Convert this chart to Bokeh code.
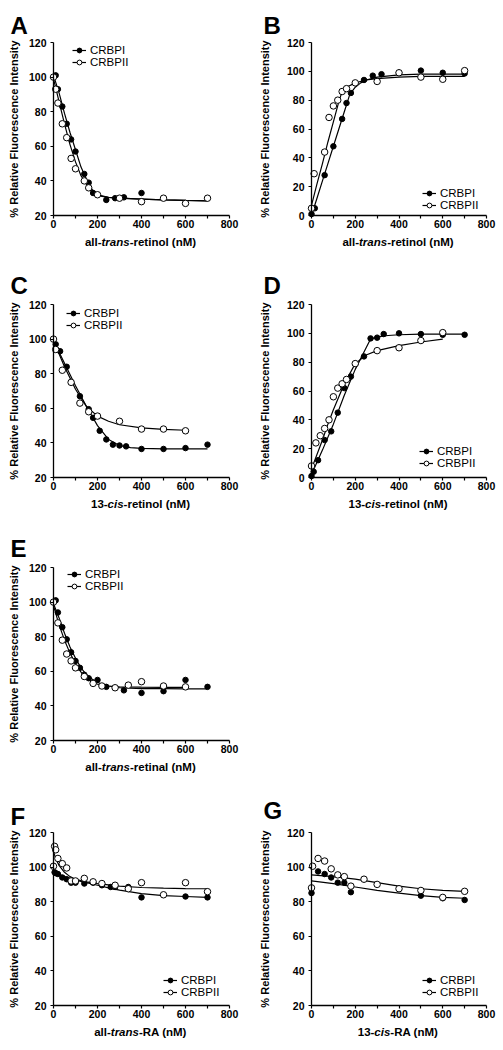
import math
from bokeh.plotting import figure
from bokeh.layouts import gridplot
from bokeh.models import FixedTicker, Label, Legend, LegendItem
from bokeh.embed import file_html
from bokeh.resources import INLINE

FONT = "Liberation Sans"

# ---------------- data ----------------
X_TICKS = [0, 200, 400, 600, 800]
X_MINOR = [100, 300, 500, 700]
Y_TICKS_20 = [20, 40, 60, 80, 100, 120]
Y_TICKS_0 = [0, 20, 40, 60, 80, 100, 120]
SERIES = ["CRBPI", "CRBPII"]

# A: all-trans-retinol, quench
A_I_x = [10, 20, 40, 60, 80, 100, 140, 160, 180, 240, 280, 320, 400]
A_I_y = [101, 93, 83, 73, 64, 57, 44, 39, 33, 29, 30, 30.5, 33]
A_II_x = [0, 10, 20, 40, 60, 80, 100, 140, 160, 200, 300, 400, 500, 600, 700]
A_II_y = [100, 93, 85, 73, 65, 53, 47, 40, 36, 32, 30, 28, 30, 27, 30]
A_fit_x = [0, 25, 50, 75, 100, 125, 150, 175, 200, 250, 300, 400, 500, 600, 700]
A_I_fit = [101, 91, 79, 68, 58, 48, 41, 35, 32, 30.5, 30, 29.5, 29, 28.7, 28.5]
A_II_fit = [99, 86, 73, 61, 51, 43, 38, 34, 31.5, 30.5, 30, 29.5, 29, 28.7, 28.5]

# B: all-trans-retinol, enhancement
B_I_x = [0, 15, 60, 100, 140, 160, 180, 240, 280, 320, 400, 500, 600, 700]
B_I_y = [1, 5, 28, 48, 67, 78, 85, 94, 97, 98, 99, 100.5, 99, 98.5]
B_II_x = [0, 12, 60, 80, 100, 120, 140, 160, 200, 300, 400, 500, 600, 700]
B_II_y = [5, 29, 44, 68, 76, 80, 86, 88, 92, 93, 99, 96, 94.5, 100.5]
B_I_fit_x = [0, 25, 50, 75, 100, 125, 150, 175, 200, 225, 250, 300, 400, 500, 600, 700]
B_I_fit = [0, 12, 24, 36, 48, 60, 72, 84, 89, 92, 94, 96, 97.5, 98, 98, 98]
B_II_fit_x = [0, 25, 50, 75, 100, 125, 140, 160, 200, 250, 300, 400, 500, 600, 700]
B_II_fit = [7, 22, 36, 51, 65, 79, 86, 89, 92, 94, 95, 96, 96.5, 96.5, 96.5]

# C: 13-cis-retinol, quench
C_I_x = [10, 30, 60, 120, 160, 180, 210, 240, 270, 300, 330, 400, 500, 600, 700]
C_I_y = [97, 93, 84, 67, 59.5, 54.5, 47, 42, 39, 38.5, 38, 36.5, 36.5, 37, 39]
C_II_x = [0, 10, 40, 80, 120, 160, 200, 300, 400, 500, 600]
C_II_y = [100, 94, 82, 75, 63, 58, 55.5, 52.5, 48, 48, 47]
C_I_fit_x = [0, 50, 100, 150, 200, 250, 300, 350, 400, 500, 600, 700]
C_I_fit = [99, 86, 73, 61, 50, 42, 38.5, 37.3, 36.8, 36.6, 36.5, 36.5]
C_II_fit_x = [0, 50, 100, 150, 200, 250, 300, 400, 500, 600]
C_II_fit = [99, 84, 71, 61, 55.5, 52.5, 50.5, 48.7, 47.8, 47.3]

# D: 13-cis-retinol, enhancement
D_I_x = [0, 10, 30, 60, 90, 120, 150, 180, 200, 240, 270, 300, 330, 400, 500, 600, 700]
D_I_y = [1, 4, 12, 26, 32, 45, 62, 70, 79, 84, 96.5, 97, 99.5, 100, 99.5, 99, 99]
D_II_x = [0, 20, 40, 60, 80, 100, 120, 140, 160, 200, 300, 400, 500, 600]
D_II_y = [8, 24, 29, 34, 40, 56, 62, 65, 68, 79, 88, 90, 95, 100.5]
D_I_fit_x = [0, 50, 100, 150, 200, 240, 270, 300, 350, 400, 500, 600, 700]
D_I_fit = [2, 19, 37, 57, 75, 87, 96, 97.5, 98.5, 99, 99.5, 99.5, 99.5]
D_II_fit_x = [0, 25, 50, 75, 100, 150, 200, 250, 300, 400, 500, 600]
D_II_fit = [6, 16, 26, 37, 47, 65, 79, 85, 88, 91.5, 94, 96]

# E: all-trans-retinal
E_I_x = [10, 20, 40, 60, 80, 100, 120, 140, 160, 200, 240, 320, 400, 500, 600, 700]
E_I_y = [101, 94, 85.5, 78.5, 71, 66, 62, 58, 56, 55, 51, 49, 47.5, 48.5, 55, 51]
E_II_x = [0, 20, 40, 60, 80, 100, 140, 180, 220, 280, 340, 400, 500, 600]
E_II_y = [100, 88, 78, 70, 66, 62, 57, 53, 51.5, 50.5, 52, 54, 51.5, 51]
E_I_fit_x = [0, 25, 50, 75, 100, 125, 150, 175, 200, 250, 300, 400, 500, 600, 700]
E_I_fit = [99, 91, 82, 74, 67.5, 62, 58, 55.5, 53.5, 51.5, 50.5, 50, 50, 49.8, 49.8]
E_II_fit_x = [0, 25, 50, 75, 100, 125, 150, 175, 200, 250, 300, 400, 500, 600]
E_II_fit = [98, 87, 78, 70.5, 64.5, 59.5, 56, 54, 52.5, 51.5, 51, 50.8, 50.7, 50.7]

# F: all-trans-RA
F_I_x = [5, 10, 20, 40, 60, 80, 100, 140, 180, 220, 260, 280, 340, 400, 600, 700]
F_I_y = [97, 96.5, 96, 94, 93, 91, 91, 90.5, 91, 89.5, 88.5, 88.5, 88.5, 82.5, 83, 82.5]
F_II_x = [0, 5, 10, 20, 40, 60, 80, 100, 140, 180, 220, 280, 340, 400, 500, 600, 700]
F_II_y = [100.5, 112, 110, 105, 102, 99.5, 92, 92, 93.5, 91.5, 90.5, 89.5, 87.5, 91, 84, 91, 85.8]
F_I_fit_x = [0, 50, 100, 150, 200, 250, 300, 400, 500, 600, 700]
F_I_fit = [97, 94.5, 92.5, 91, 89.5, 88, 86.7, 84.7, 83.5, 83, 82.5]
F_II_fit_x = [0, 10, 25, 50, 75, 100, 150, 200, 300, 400, 500, 600, 700]
F_II_fit = [109, 105, 101, 97, 94.5, 93, 91.5, 90.5, 89, 88.2, 87.8, 87.6, 87.5]

# G: 13-cis-RA
G_I_x = [0, 30, 60, 90, 120, 150, 180, 500, 600, 700]
G_I_y = [85, 97.5, 96, 94, 91, 91, 85.5, 83.5, 82, 81]
G_II_x = [0, 5, 30, 60, 90, 120, 150, 180, 240, 300, 400, 500, 600, 700]
G_II_y = [88, 100.5, 105, 103.5, 99, 95.5, 94.5, 89, 93, 90, 87.5, 86.5, 82.5, 86]
G_fit_x = [0, 100, 200, 300, 400, 500, 600, 700]
G_I_fit = [92, 90.5, 88.5, 86.5, 85, 83.5, 82.5, 82]
G_II_fit = [95.5, 94.5, 93, 91, 89, 87.5, 86.5, 86]

# x-axis titles: (prefix, italic part, suffix)
XT_A = ("all-", "trans", "-retinol (nM)")
XT_C = ("13-", "cis", "-retinol (nM)")
XT_E = ("all-", "trans", "-retinal (nM)")
XT_F = ("all-", "trans", "-RA (nM)")
XT_G = ("13-", "cis", "-RA (nM)")
Y_TITLE = "% Relative Fluorescence Intensity"

# ---------------- layout helpers ----------------
ARIAL_BOLD = {
    'a': 556, 'b': 611, 'c': 556, 'd': 611, 'e': 556, 'f': 333, 'g': 611, 'h': 611,
    'i': 278, 'j': 278, 'k': 556, 'l': 278, 'm': 889, 'n': 611, 'o': 611, 'p': 611,
    'q': 611, 'r': 389, 's': 556, 't': 333, 'u': 611, 'v': 556, 'w': 778, 'x': 556,
    'y': 556, 'z': 500, 'A': 722, 'M': 833, 'N': 722, 'R': 722, ' ': 278, '-': 333,
    '(': 333, ')': 333,
}


def tw(s, fs):
    return sum(ARIAL_BOLD.get(ch, 556) for ch in s) / 1000.0 * fs


# column geometry: canvas width, axis x, frame width, y-title centre x, letter x
COLS = [dict(W=253, L=53, FW=176, yt=13.5, lx=10),
        dict(W=245, L=58, FW=175, yt=11, lx=10)]
# row geometry: canvas height, frame top offset
ROWS = [dict(H=270, T=42), dict(H=263, T=34), dict(H=265, T=34), dict(H=252, T=34)]
FH = 173


def panel(letter, row, col, ymin, yticks, d1, d2, f1, f2, xt, leg_off, gap):
    c = COLS[col]
    r = ROWS[row]
    W, H, L, FW, T = c["W"], r["H"], c["L"], c["FW"], r["T"]
    ppx = FW / 800.0
    ppy = FH / (120.0 - ymin)
    xr = (-L / ppx, (W - L) / ppx)
    yr = (ymin - (H - T - FH) / ppy, 120 + T / ppy)
    p = figure(width=W, height=H, x_range=xr, y_range=yr,
               min_border=0, output_backend="svg", toolbar_location=None)
    p.outline_line_color = None
    p.xgrid.grid_line_color = None
    p.ygrid.grid_line_color = None
    p.background_fill_color = "white"
    p.border_fill_color = "white"

    for ax in (p.xaxis[0], p.yaxis[0]):
        ax.axis_line_width = 1.3
        ax.axis_line_color = "black"
        ax.major_tick_line_color = "black"
        ax.major_tick_line_width = 1.2
        ax.minor_tick_line_color = "black"
        ax.minor_tick_line_width = 1.2
        ax.major_tick_in = 0
        ax.major_tick_out = 3
        ax.minor_tick_in = 0
        ax.minor_tick_out = 3
        ax.major_label_text_font = FONT
        ax.major_label_text_font_style = "bold"
        ax.major_label_text_font_size = "10.5px"
        ax.major_label_text_color = "black"
    xa, ya = p.xaxis[0], p.yaxis[0]
    xa.ticker = FixedTicker(ticks=X_TICKS, minor_ticks=X_MINOR)
    ya.ticker = FixedTicker(ticks=yticks, minor_ticks=[])
    xa.bounds = (0, 800)
    ya.bounds = (ymin, 120)
    xa.fixed_location = ymin
    ya.fixed_location = 0
    xa.major_label_standoff = 1
    ya.major_label_standoff = 4

    r1l = p.line(f1[0], f1[1], line_color="black", line_width=1.2)
    r2l = p.line(f2[0], f2[1], line_color="black", line_width=1.2)
    r1s = p.scatter(d1[0], d1[1], marker="circle", size=5.5, fill_color="black",
                    line_color="black", line_width=1)
    r2s = p.scatter(d2[0], d2[1], marker="circle", size=6.5, fill_color="white",
                    line_color="black", line_width=1)

    fb = H - T - FH  # frame bottom, measured from canvas bottom
    leg = Legend(items=[LegendItem(label=SERIES[0], renderers=[r1l, r1s]),
                        LegendItem(label=SERIES[1], renderers=[r2l, r2s])],
                 location=(L + leg_off[0], fb + leg_off[1]),
                 padding=0, margin=0, spacing=0,
                 glyph_width=14, glyph_height=12, label_height=12, label_standoff=4,
                 label_text_font=FONT, label_text_font_size="11.5px",
                 label_text_color="black",
                 border_line_alpha=0, background_fill_alpha=0)
    p.add_layout(leg)

    # panel letter
    p.add_layout(Label(x=c["lx"], y=H - T + gap, x_units="screen", y_units="screen",
                       text=letter, text_font=FONT, text_font_style="bold",
                       text_font_size="24px", text_color="black",
                       text_baseline="alphabetic", text_align="left"))
    # y-axis title
    p.add_layout(Label(x=c["yt"], y=fb + FH / 2, x_units="screen", y_units="screen",
                       text=Y_TITLE, angle=math.pi / 2, text_font=FONT,
                       text_font_style="bold", text_font_size="11px", text_color="black",
                       text_align="center", text_baseline="middle"))
    # x-axis title with italic part
    fs = 11.5
    total = tw(xt[0], fs) + tw(xt[1], fs) + tw(xt[2], fs)
    x0 = L + FW / 2 - 1 - total / 2
    xs = [x0, x0 + tw(xt[0], fs), x0 + tw(xt[0], fs) + tw(xt[1], fs)]
    styles = ["bold", "bold italic", "bold"]
    for part, xx, st in zip(xt, xs, styles):
        p.add_layout(Label(x=xx, y=fb - 26, x_units="screen", y_units="screen",
                           text=part, text_font=FONT, text_font_style=st,
                           text_font_size=f"{fs}px", text_color="black",
                           text_align="left", text_baseline="alphabetic"))
    return p


pA = panel("A", 0, 0, 20, Y_TICKS_20, (A_I_x, A_I_y), (A_II_x, A_II_y),
           (A_fit_x, A_I_fit), (A_fit_x, A_II_fit), XT_A, (19, 147), 17)
pB = panel("B", 0, 1, 0, Y_TICKS_0, (B_I_x, B_I_y), (B_II_x, B_II_y),
           (B_I_fit_x, B_I_fit), (B_II_fit_x, B_II_fit), XT_A, (111, 4), 17)
pC = panel("C", 1, 0, 20, Y_TICKS_20, (C_I_x, C_I_y), (C_II_x, C_II_y),
           (C_I_fit_x, C_I_fit), (C_II_fit_x, C_II_fit), XT_C, (13, 146), 19)
pD = panel("D", 1, 1, 0, Y_TICKS_0, (D_I_x, D_I_y), (D_II_x, D_II_y),
           (D_I_fit_x, D_I_fit), (D_II_fit_x, D_II_fit), XT_C, (108, 8), 19)
pE = panel("E", 2, 0, 20, Y_TICKS_20, (E_I_x, E_I_y), (E_II_x, E_II_y),
           (E_I_fit_x, E_I_fit), (E_II_fit_x, E_II_fit), XT_E, (14, 148), 19)
pF = panel("F", 3, 0, 20, Y_TICKS_20, (F_I_x, F_I_y), (F_II_x, F_II_y),
           (F_I_fit_x, F_I_fit), (F_II_fit_x, F_II_fit), XT_F, (110, 7), 16)
pG = panel("G", 3, 1, 20, Y_TICKS_20, (G_I_x, G_I_y), (G_II_x, G_II_y),
           (G_fit_x, G_I_fit), (G_fit_x, G_II_fit), XT_G, (111, 7), 22)

grid = gridplot([[pA, pB], [pC, pD], [pE, None], [pF, pG]], toolbar_location=None)

open("out.html", "w").write(file_html(grid, INLINE))
